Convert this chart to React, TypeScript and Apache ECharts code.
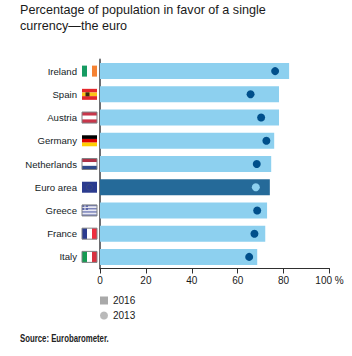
import React, { useEffect, useRef } from "react";
import * as echarts from "echarts";

const categories = ["Ireland", "Spain", "Austria", "Germany", "Netherlands", "Euro area", "Greece", "France", "Italy"];
const values2016 = [82.4, 78, 78, 75.9, 74.6, 74, 72.8, 72, 68.5];
const values2013 = [76.3, 65.6, 70.2, 72.5, 68.3, 67.9, 68.5, 67.3, 65];
const xTicks = [0, 20, 40, 60, 80, 100];
const highlighted = "Euro area";

const flagStripes: string[][] = [
  ["#169b62", "#ffffff", "#f58233"],
  ["#e4262a", "#fbc417", "#e4262a"],
  ["#c8364a", "#ffffff", "#c8364a"],
  ["#000000", "#dd0000", "#ffce00"],
  ["#ae3247", "#ffffff", "#2f4b8c"],
  ["#2b3b8f"],
  ["#6f78b4", "#e8e8f2", "#6f78b4", "#e8e8f2", "#6f78b4", "#e8e8f2", "#6f78b4"],
  ["#2b3b8f", "#ffffff", "#ee2e3f"],
  ["#159a52", "#ffffff", "#d8313f"],
];
const flagVertical = [true, false, false, false, false, false, false, true, true];
const flagBorder = [false, false, true, false, true, false, true, true, true];

export default function App() {
  const ref = useRef<HTMLDivElement>(null);
  useEffect(() => {
    const chart = echarts.init(ref.current!, undefined, { renderer: "svg" });
    const font = "'Liberation Sans', Arial, sans-serif";
    chart.setOption({
      animation: false,
      backgroundColor: "#ffffff",
      title: {
        text: "Percentage of population in favor of a single\ncurrency\u2014the euro",
        left: 20,
        top: 2,
        padding: 0,
        textStyle: { fontFamily: font, fontSize: 12.6, fontWeight: "normal", color: "#1a1a1a", lineHeight: 16 },
      },
      grid: { left: 100, right: 22.5, top: 59.5, bottom: 87.5 },
      xAxis: {
        type: "value",
        min: 0,
        max: 100,
        interval: 20,
        position: "bottom",
        axisLine: { show: true, lineStyle: { color: "#2f2f2f", width: 1 } },
        axisTick: { show: true, length: 5, lineStyle: { color: "#2f2f2f", width: 1 } },
        splitLine: { show: false },
        axisLabel: {
          margin: 7,
          fontFamily: font,
          fontSize: 10,
          color: "#1a1a1a",
          formatter: (v: number) => (v === xTicks[xTicks.length - 1] ? `${v} %` : `${v}`),
        },
      },
      yAxis: {
        type: "category",
        inverse: true,
        data: categories,
        axisLine: { show: true, lineStyle: { color: "#6d6e71", width: 2 } },
        axisTick: { show: false },
        axisLabel: { margin: 23, fontFamily: font, fontSize: 9.6, color: "#141c26" },
      },
      legend: {
        orient: "vertical",
        left: 100,
        top: 295.5,
        padding: 0,
        itemWidth: 8,
        itemHeight: 8,
        itemGap: 5,
        selectedMode: false,
        textStyle: { fontFamily: font, fontSize: 10, color: "#1a1a1a" },
        data: [
          { name: "2016", icon: "rect", itemStyle: { color: "#a9a9a9" } },
          { name: "2013", icon: "circle", itemStyle: { color: "#a9a9a9" } },
        ],
      },
      series: [
        {
          name: "2016",
          type: "bar",
          barWidth: 16,
          data: values2016.map((v, i) => ({
            value: v,
            itemStyle: { color: categories[i] === highlighted ? "#256a99" : "#8dd0ef" },
          })),
        },
        {
          name: "2013",
          type: "scatter",
          symbol: "circle",
          symbolSize: 8,
          z: 5,
          data: values2013.map((v, i) => ({
            value: [v, i],
            itemStyle: { color: categories[i] === highlighted ? "#8dd0ef" : "#004f8b", opacity: 1 },
          })),
        },
        {
          name: "flags",
          type: "custom",
          clip: false,
          silent: true,
          data: categories.map((_, i) => [0, i]),
          encode: { x: 0, y: 1 },
          renderItem: (params: any, api: any) => {
            const i = api.value(1);
            const p = api.coord([0, i]);
            const w = 15;
            const h = 11;
            const x0 = p[0] - 18;
            const y0 = p[1] - h / 2;
            const stripes = flagStripes[i];
            const children: any[] = stripes.map((c, k) => {
              const n = stripes.length;
              return {
                type: "rect",
                shape: flagVertical[i]
                  ? { x: x0 + (w * k) / n, y: y0, width: w / n, height: h }
                  : { x: x0, y: y0 + (h * k) / n, width: w, height: h / n },
                style: { fill: c },
              };
            });
            if (categories[i] === "Spain") {
              children.push({ type: "rect", shape: { x: x0 + 3.5, y: y0 + 3.5, width: 4, height: 4 }, style: { fill: "#3a2a10" } });
            }
            if (categories[i] === "Greece") {
              children.push({ type: "rect", shape: { x: x0, y: y0, width: 6, height: 5 }, style: { fill: "#5a64a8" } });
              children.push({ type: "rect", shape: { x: x0 + 2.5, y: y0, width: 1, height: 5 }, style: { fill: "#e8e8f2" } });
              children.push({ type: "rect", shape: { x: x0, y: y0 + 2, width: 6, height: 1 }, style: { fill: "#e8e8f2" } });
            }
            if (categories[i] === highlighted) {
              children.push({ type: "circle", shape: { cx: x0 + w / 2, cy: y0 + h / 2, r: 3 }, style: { fill: "none", stroke: "#3a4a80", lineWidth: 1 } });
            }
            if (flagBorder[i]) {
              children.push({
                type: "rect",
                shape: { x: x0, y: y0, width: w, height: h },
                style: { fill: "none", stroke: "#808285", lineWidth: 1 },
              });
            }
            return { type: "group", children };
          },
        },
      ],
      graphic: [
        {
          type: "text",
          x: 20,
          y: 334,
          scaleX: 0.78,
          style: {
            text: "Source: Eurobarometer.",
            fontFamily: font,
            fontSize: 10,
            fontWeight: "bold",
            fill: "#222222",
          },
        },
      ],
    });
    return () => chart.dispose();
  }, []);
  return <div ref={ref} style={{ width: 352, height: 356, position: "fixed", left: 0, top: 0 }} />;
}
